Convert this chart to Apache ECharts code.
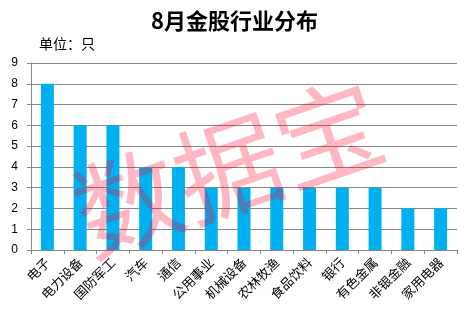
<!DOCTYPE html>
<html><head><meta charset="utf-8">
<script src="https://cdn.jsdelivr.net/npm/echarts@6/dist/echarts.min.js"></script>
<style>html,body{margin:0;padding:0;background:#fff}#c{width:469px;height:316px}</style>
</head><body><div id="c"></div>
<script>
const categories = ['电子','电力设备','国防军工','汽车','通信','公用事业','机械设备','农林牧渔','食品饮料','银行','有色金属','非银金融','家用电器'];
const values = [8,6,6,4,4,3,3,3,3,3,3,2,2];
const titleText = '8月金股行业分布';
const unitText = '单位：只';
const watermarkText = '数据宝';

const chart = echarts.init(document.getElementById('c'), null, {renderer:'canvas'});
const grey = '#868686';
chart.setOption({
  animation:false,
  title:{text:titleText,left:'center',top:5,textStyle:{fontSize:22,fontWeight:'bold',color:'#000',fontFamily:'Noto Sans CJK SC'}},
  graphic:[
    {type:'text',left:39,top:37,style:{text:unitText,fontSize:14,fill:'#000',fontFamily:'Noto Sans CJK SC'}},
    {type:'text',z:100,x:228,y:168,rotation:19*Math.PI/180,
     style:{text:watermarkText,fontSize:106,fontWeight:'normal',fill:'rgba(255,0,40,0.28)',fontFamily:'Noto Sans CJK SC',align:'center',verticalAlign:'middle'}}
  ],
  grid:{left:31,right:12,top:63,bottom:66,containLabel:false},
  xAxis:{type:'category',data:categories,
    axisLine:{lineStyle:{color:grey,width:1}},
    axisTick:{show:true,length:4,lineStyle:{color:grey}},
    axisLabel:{interval:0,rotate:45,fontSize:13,color:'#000',margin:10,fontFamily:'Noto Sans CJK SC'}},
  yAxis:{type:'value',min:0,max:9,interval:1,
    axisLine:{show:true,lineStyle:{color:grey,width:1}},
    axisTick:{show:true,length:4,lineStyle:{color:grey}},
    axisLabel:{fontSize:12,color:'#000',margin:13,fontFamily:'Liberation Sans'},
    splitLine:{lineStyle:{color:grey,width:1}}},
  series:[{type:'bar',data:values,barWidth:13,itemStyle:{color:'#00B0F0'}}]
});
</script></body></html>
